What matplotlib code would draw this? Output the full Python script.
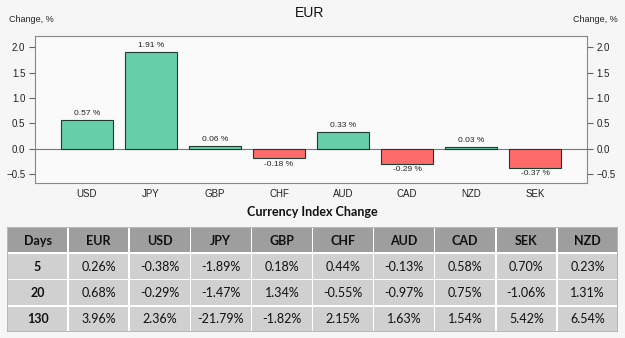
import matplotlib

matplotlib.use("Agg")
import matplotlib.pyplot as plt
from matplotlib.patches import Rectangle

currencies = ["USD", "JPY", "GBP", "CHF", "AUD", "CAD", "NZD", "SEK"]
changes = [0.57, 1.91, 0.06, -0.18, 0.33, -0.29, 0.03, -0.37]

table_cols = ["Days", "EUR", "USD", "JPY", "GBP", "CHF", "AUD", "CAD", "SEK", "NZD"]
table_rows = [
    ["5", "0.26%", "-0.38%", "-1.89%", "0.18%", "0.44%", "-0.13%", "0.58%", "0.70%", "0.23%"],
    ["20", "0.68%", "-0.29%", "-1.47%", "1.34%", "-0.55%", "-0.97%", "0.75%", "-1.06%", "1.31%"],
    ["130", "3.96%", "2.36%", "-21.79%", "-1.82%", "2.15%", "1.63%", "1.54%", "5.42%", "6.54%"],
]

W, H = 625, 338
fig = plt.figure(figsize=(W / 100, H / 100), dpi=100)
fig.patch.set_facecolor("#f6f6f6")
plt.rcParams["font.family"] = ["Liberation Sans", "DejaVu Sans"]


def box(x0, y0, x1, y1):
    # pixel box -> figure fraction
    return [x0 / W, 1 - y1 / H, (x1 - x0) / W, (y1 - y0) / H]


# bar chart
ax = fig.add_axes(box(35, 36, 587, 183))
ax.set_facecolor("#fafafa")
x = list(range(len(currencies)))
colors = ["#66cfa9" if v >= 0 else "#ff6b6b" for v in changes]
ax.bar(x, changes, width=0.81, color=colors, edgecolor="#1e3b30", linewidth=0.8, zorder=3)
ax.axhline(0, color="#777777", linewidth=0.8, zorder=2)
for xi, v in zip(x, changes):
    if v >= 0:
        ax.text(xi, v + 0.06, f"{v:.2f} %", ha="center", va="bottom", fontsize=6, color="#222222")
    else:
        ax.text(xi, v - 0.05, f"{v:.2f} %", ha="center", va="top", fontsize=6, color="#222222")

ax.set_xlim(-0.81, 7.81)
ax.set_ylim(-0.67, 2.22)
ax.set_xticks(x)
ax.set_xticklabels(currencies, fontsize=7, color="#222222")
ax.tick_params(axis="x", length=0, pad=4)
ax.set_yticks([-0.5, 0.0, 0.5, 1.0, 1.5, 2.0])
ax.tick_params(axis="y", labelsize=7, length=4, color="#666666", labelcolor="#222222",
               left=True, right=True, labelleft=True, labelright=True, pad=3)
for s in ax.spines.values():
    s.set_color("#888888")
    s.set_linewidth(0.8)

fig.text(310 / W, 1 - 13 / H, "EUR", ha="center", va="center", fontsize=10, color="#111111")
fig.text(9 / W, 1 - 19 / H, "Change, %", ha="left", va="center", fontsize=6.5, color="#222222")
fig.text(618 / W, 1 - 19 / H, "Change, %", ha="right", va="center", fontsize=6.5, color="#222222")

# table
fig.text(312 / W, 1 - 212 / H, "Currency Index Change", ha="center", va="center",
         fontsize=9, fontweight="bold", color="#111111", family=["Lato", "DejaVu Sans"])

tax = fig.add_axes(box(7, 227, 618, 332))
tax.set_xlim(0, len(table_cols))
tax.set_ylim(len(table_rows) + 1, 0)
tax.axis("off")
tax.add_patch(Rectangle((0, 0), len(table_cols), len(table_rows) + 1,
                        facecolor="white", edgecolor="#aaaaaa", linewidth=1.2))
gx, gy = 0.013, 0.035
for j, col in enumerate(table_cols):
    tax.add_patch(Rectangle((j + gx, gy), 1 - 2 * gx, 1 - 2 * gy,
                            facecolor="#9e9e9e", edgecolor="none"))
    tax.text(j + 0.5, 0.52, col, ha="center", va="center", fontsize=9, fontweight="bold",
             color="#111111", family=["Lato", "DejaVu Sans"])
for i, row in enumerate(table_rows):
    for j, val in enumerate(row):
        tax.add_patch(Rectangle((j + gx, i + 1 + gy), 1 - 2 * gx, 1 - 2 * gy,
                                facecolor="#d0d0d0", edgecolor="none"))
        tax.text(j + 0.5, i + 1.52, val, ha="center", va="center", fontsize=9,
                 fontweight="bold" if j == 0 else "normal", color="#111111",
                 family=["Lato", "DejaVu Sans"])

fig.savefig("out.png", dpi=100, facecolor=fig.get_facecolor())
